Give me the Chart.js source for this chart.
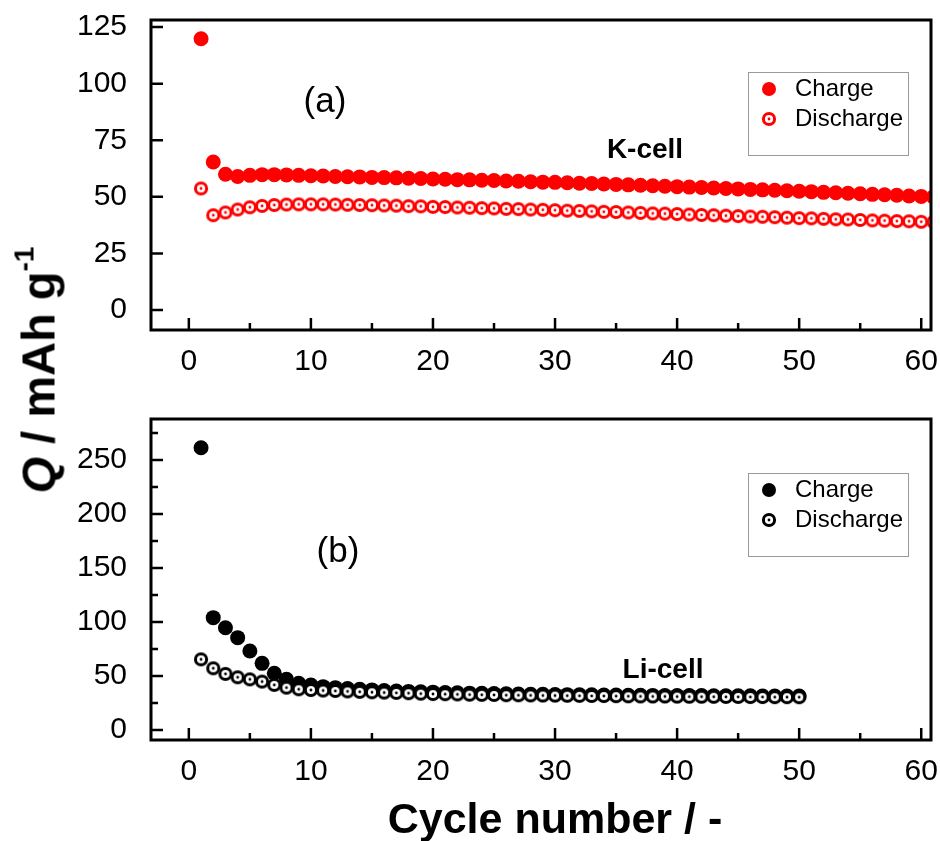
<!DOCTYPE html>
<html>
<head>
<meta charset="utf-8">
<script src="https://cdn.jsdelivr.net/npm/chart.js@4.4.1/dist/chart.umd.min.js"></script>
<style>
  body { margin: 0; background: #fff; }
  #wrap { position: relative; width: 940px; height: 841px; overflow: hidden; }
  canvas { position: absolute; left: 0; }
  #cA { top: 0; }
  #cB { top: 400px; }
  .title { position: absolute; font-family: 'Liberation Sans', Arial, sans-serif; font-weight: bold; color: #000; white-space: nowrap; }
  #ytitle { left: 38px; top: 370px; font-size: 47px; transform: translate(-50%, -50%) rotate(-90deg); }
  #ytitle sup { font-size: 28px; position: relative; top: -4px; }
  #xtitle { left: 555px; top: 818px; font-size: 43px; transform: translate(-50%, -50%); }
</style>
</head>
<body>
<div id="wrap">
  <canvas id="cA" width="940" height="400"></canvas>
  <canvas id="cB" width="940" height="441"></canvas>
  <div class="title" id="ytitle"><i>Q</i> / mAh g<sup>-1</sup></div>
  <div class="title" id="xtitle">Cycle number / -</div>
</div>
<script>
// ticks
const xTicks = [0, 10, 20, 30, 40, 50, 60];
const xMinor = [5, 15, 25, 35, 45, 55];
const yTicksK = [0, 25, 50, 75, 100, 125];
const yTicksLi = [0, 50, 100, 150, 200, 250];
const yMinorLi = [25, 75, 125, 175, 225, 275];

// K-cell, cycles 1..61
const kCycles = Array.from({ length: 61 }, (_, i) => i + 1);
const kCharge = [119.8, 65.4, 60.0, 59.0, 59.5, 59.8, 59.8, 59.7, 59.5, 59.3,
  59.2, 59.0, 58.9, 58.8, 58.6, 58.5, 58.4, 58.2, 58.1, 57.9,
  57.8, 57.6, 57.5, 57.3, 57.2, 57.0, 56.9, 56.7, 56.5, 56.4,
  56.2, 56.0, 55.9, 55.7, 55.5, 55.3, 55.1, 54.9, 54.7, 54.5,
  54.3, 54.1, 53.9, 53.7, 53.5, 53.3, 53.1, 52.9, 52.7, 52.5,
  52.3, 52.0, 51.8, 51.6, 51.4, 51.1, 50.9, 50.7, 50.4, 50.2, 50.0];
const kDischarge = [53.7, 41.9, 43.1, 44.4, 45.4, 46.0, 46.4, 46.6, 46.7, 46.7,
  46.7, 46.6, 46.5, 46.4, 46.3, 46.2, 46.1, 45.9, 45.8, 45.6,
  45.5, 45.3, 45.2, 45.0, 44.9, 44.7, 44.6, 44.4, 44.3, 44.1,
  43.9, 43.8, 43.6, 43.4, 43.3, 43.1, 42.9, 42.7, 42.6, 42.4,
  42.2, 42.0, 41.9, 41.7, 41.5, 41.3, 41.2, 41.0, 40.8, 40.6,
  40.5, 40.3, 40.1, 40.0, 39.8, 39.6, 39.5, 39.3, 39.2, 39.0, 38.9];

// Li-cell, cycles 1..50
const liCycles = Array.from({ length: 50 }, (_, i) => i + 1);
const liCharge = [261.4, 104.0, 94.7, 85.5, 73.1, 61.7, 52.5, 46.9, 43.2, 41.7,
  40.1, 39.2, 38.4, 37.7, 37.1, 36.6, 36.1, 35.7, 35.3, 35.0,
  34.7, 34.4, 34.1, 33.9, 33.7, 33.5, 33.3, 33.1, 33.0, 32.8,
  32.7, 32.6, 32.5, 32.4, 32.3, 32.2, 32.1, 32.0, 31.9, 31.9,
  31.8, 31.8, 31.7, 31.7, 31.6, 31.6, 31.5, 31.5, 31.4, 31.4];
const liDischarge = [65.4, 57.1, 51.9, 48.8, 46.9, 44.8, 41.7, 39.2, 37.7, 37.0,
  36.5, 36.1, 35.7, 35.3, 34.9, 34.6, 34.3, 34.0, 33.6, 33.3,
  33.1, 32.9, 32.7, 32.5, 32.4, 32.2, 32.1, 32.0, 31.9, 31.8,
  31.7, 31.6, 31.5, 31.4, 31.3, 31.2, 31.1, 31.0, 31.0, 30.9,
  30.8, 30.8, 30.7, 30.6, 30.6, 30.5, 30.5, 30.4, 30.4, 30.3];

const FONT = "'Liberation Sans', Arial, sans-serif";

// hollow circle with a dot in the middle
function ringMarker(color) {
  const c = document.createElement('canvas');
  c.width = 16; c.height = 16;
  const g = c.getContext('2d');
  g.beginPath(); g.arc(8, 8, 5.6, 0, 2 * Math.PI);
  g.fillStyle = '#fff'; g.fill();
  g.lineWidth = 3; g.strokeStyle = color; g.stroke();
  g.beginPath(); g.arc(8, 8, 1.4, 0, 2 * Math.PI);
  g.fillStyle = color; g.fill();
  return c;
}

const panelDecor = {
  id: 'panelDecor',
  afterDraw(chart, args, o) {
    const ctx = chart.ctx;
    const a = chart.chartArea;
    const xs = chart.scales.x, ys = chart.scales.y;
    ctx.save();
    ctx.strokeStyle = '#000';
    ctx.lineWidth = 2.5;
    ctx.beginPath();
    xTicks.forEach(v => { const p = xs.getPixelForValue(v); ctx.moveTo(p, a.bottom); ctx.lineTo(p, a.bottom - 12); });
    xMinor.forEach(v => { const p = xs.getPixelForValue(v); ctx.moveTo(p, a.bottom); ctx.lineTo(p, a.bottom - 7); });
    o.yTicks.forEach(v => { const p = ys.getPixelForValue(v); ctx.moveTo(a.left, p); ctx.lineTo(a.left + 12, p); });
    o.yMinor.forEach(v => { const p = ys.getPixelForValue(v); ctx.moveTo(a.left, p); ctx.lineTo(a.left + 7, p); });
    ctx.stroke();
    ctx.lineWidth = 3;
    ctx.strokeRect(a.left, a.top, a.right - a.left, a.bottom - a.top);

    // panel tag and cell name
    ctx.fillStyle = '#000';
    ctx.textAlign = 'center';
    ctx.textBaseline = 'middle';
    ctx.font = '35px ' + FONT;
    ctx.fillText(o.tag[0], o.tag[1], o.tag[2]);
    ctx.font = 'bold 28px ' + FONT;
    ctx.fillText(o.cell[0], o.cell[1], o.cell[2]);

    // legend box
    const L = o.legend;
    ctx.lineWidth = 1;
    ctx.strokeStyle = '#9a9a9a';
    ctx.strokeRect(L.x + 0.5, L.y + 0.5, 160, 83);
    ctx.fillStyle = o.color;
    ctx.beginPath(); ctx.arc(L.x + 21, L.y + 17, 7, 0, 2 * Math.PI); ctx.fill();
    ctx.drawImage(o.ring, L.x + 13, L.y + 39);
    ctx.fillStyle = '#000';
    ctx.textAlign = 'left';
    ctx.font = '24px ' + FONT;
    ctx.fillText('Charge', L.x + 47, L.y + 17);
    ctx.fillText('Discharge', L.x + 47, L.y + 47);
    ctx.restore();
  }
};

function makePanel(id, cycles, charge, discharge, color, yMin, yMax, yTicks, yMinor, top, xH, extra) {
  const ring = ringMarker(color);
  return new Chart(document.getElementById(id), {
    type: 'scatter',
    data: {
      datasets: [
        {
          label: 'Discharge',
          data: cycles.map((c, i) => ({ x: c, y: discharge[i] })),
          pointStyle: ring,
          order: 0,
          clip: 0
        },
        {
          label: 'Charge',
          data: cycles.map((c, i) => ({ x: c, y: charge[i] })),
          pointStyle: 'circle',
          pointRadius: 7.5,
          backgroundColor: color,
          borderWidth: 0,
          order: 1,
          clip: 0
        }
      ]
    },
    options: {
      responsive: false,
      animation: false,
      events: [],
      layout: { padding: { left: 0, right: 9, top: top, bottom: 0 } },
      plugins: {
        legend: { display: false },
        tooltip: { enabled: false },
        panelDecor: Object.assign({ color, ring, yTicks, yMinor }, extra)
      },
      scales: {
        x: {
          type: 'linear', min: -3.1, max: 60.8,
          grid: { display: false }, border: { display: false },
          afterBuildTicks: s => { s.ticks = xTicks.map(v => ({ value: v })); },
          afterFit: s => { s.height = xH; s.paddingLeft = 0; s.paddingRight = 0; },
          ticks: { color: '#000', font: { family: FONT, size: 30 }, padding: 6, maxRotation: 0 }
        },
        y: {
          type: 'linear', min: yMin, max: yMax,
          grid: { display: false }, border: { display: false },
          afterBuildTicks: s => { s.ticks = yTicks.map(v => ({ value: v })); },
          afterFit: s => { s.width = 151; s.paddingTop = 0; s.paddingBottom = 0; },
          ticks: { color: '#000', font: { family: FONT, size: 30 }, padding: 16 }
        }
      }
    },
    plugins: [panelDecor]
  });
}

makePanel('cA', kCycles, kCharge, kDischarge, '#ff0000', -8.8, 128.1, yTicksK, [], 20, 70, {
  tag: ['(a)', 325, 102],
  cell: ['K-cell', 645, 150],
  legend: { x: 748, y: 72 }
});
makePanel('cB', liCycles, liCharge, liDischarge, '#000000', -9.3, 288, yTicksLi, yMinorLi, 19, 101, {
  tag: ['(b)', 338, 152],
  cell: ['Li-cell', 663, 270],
  legend: { x: 748, y: 73 }
});
</script>
</body>
</html>
